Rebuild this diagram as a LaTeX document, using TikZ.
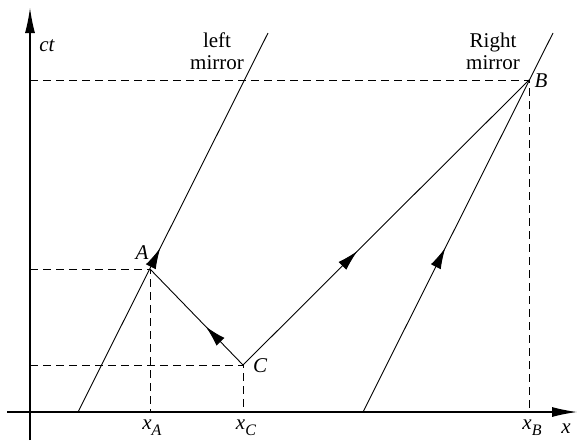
\documentclass[tikz,border=0pt]{standalone}
\usepackage{fontspec}
\setmainfont{Liberation Serif}
\usetikzlibrary{arrows.meta, decorations.markings, positioning}

\newcommand{\xsub}[1]{\textit{x}\raisebox{-0.3em}{\fontsize{16}{16}\selectfont\textit{#1}}}

\begin{document}
\begin{tikzpicture}[
    x=1pt, y=-1pt,
    axis/.style={line width=1.1pt, -{Latex[length=25pt, width=10pt]}},
    worldline/.style={line width=0.9pt},
    guide/.style={line width=0.8pt, dash pattern=on 8pt off 5pt},
    ray/.style={decoration={markings, mark=at position #1 with {\arrow{Latex[length=21pt, width=11pt]}}}, postaction={decorate}},
    lbl/.style={font=\fontsize{21}{22}\selectfont, inner sep=1pt},
    tag/.style={font=\fontsize{21}{22}\selectfont\itshape, inner sep=1pt}
]
    \useasboundingbox (0,0) rectangle (580,440);

    % axes
    \coordinate (O) at (30,412);
    \coordinate (xend) at (577,412);
    \coordinate (xstart) at (7,412);
    \coordinate (ybot) at (30,440);
    \coordinate (yend) at (30,8);
    \draw[axis] (xstart) -- (xend);
    \draw[axis] (ybot) -- (yend);

    % events
    \coordinate (A) at (150,269);
    \coordinate (C) at (243,365);
    \coordinate (B) at (529,80);

    % mirrors
    \coordinate (left0) at (78,412);
    \coordinate (left1) at (268,33);
    \coordinate (right0) at (363,412);
    \coordinate (right1) at (553,33);
    \draw[worldline, ray=0.433] (left0) -- (left1);
    \draw[worldline, ray=0.433] (right0) -- (right1);

    % light signals
    \draw[worldline, ray=0.40] (C) -- (A);
    \draw[worldline, ray=0.40] (C) -- (B);

    % projections
    \draw[guide] (O |- A) -- (A) -- (A |- O);
    \draw[guide] (O |- C) -- (C) -- (C |- O);
    \draw[guide] (O |- B) -- (B) -- (B |- O);

    % labels
    \node[tag] (ct) at (47,46) {ct};
    \node[tag] (xlbl) at (566,429) {x};
    \node[tag] (Alab) at (142,253) {A};
    \node[tag] (Blab) at (541,81) {B};
    \node[tag] (Clab) at (260,366) {C};
    \node[lbl] (xA) at (152,428) {\xsub{A}};
    \node[lbl] (xC) at (246,428) {\xsub{C}};
    \node[lbl] (xB) at (532,428) {\xsub{B}};
    \node[lbl, align=center] (leftm) at (217,51) {left\\mirror};
    \node[lbl, align=center] (rightm) at (493,51) {Right\\mirror};
\end{tikzpicture}
\end{document}
